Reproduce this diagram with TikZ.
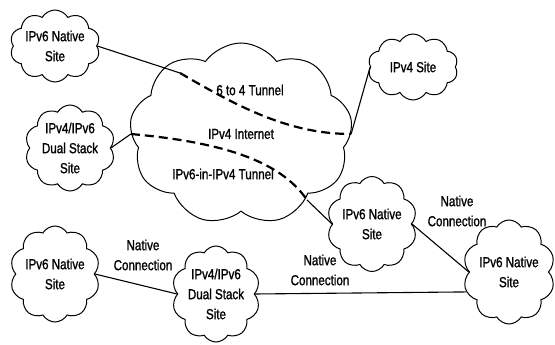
\documentclass[tikz,border=0pt]{standalone}
\usepackage{fontspec}
\setmainfont{Liberation Sans}[FakeStretch=0.8,FakeBold=1.2]
\usetikzlibrary{shapes.symbols}

\begin{document}
\begin{tikzpicture}[x=1pt,y=-1pt,font=\fontsize{14.5}{20}\selectfont,
  site/.style={cloud,draw,cloud puffs=10,cloud puff arc=120,cloud ignores aspect,inner sep=0pt,align=center,line width=1pt},
  lbl/.style={align=center,inner sep=0pt},
  link/.style={line width=1.1pt},
  tunnel/.style={line width=2.2pt,dash pattern=on 9pt off 5pt}]
\useasboundingbox (0,0) rectangle (555,345);
% IPv4 internet in the middle
\node[site,cloud puffs=9,cloud puff arc=110,minimum width=223pt,minimum height=182pt] (inet) at (241,134) {IPv4 Internet};
\node[lbl] (t64) at (250,90) {6 to 4 Tunnel};
\node[lbl] (t46) at (223,174) {IPv6-in-IPv4 Tunnel};
% sites round it
\node[site,minimum width=90pt,minimum height=72pt] (v6tl) at (55,46) {IPv6 Native\\Site};
\node[site,minimum width=90pt,minimum height=86pt] (dsl) at (70,148) {IPv4/IPv6\\Dual Stack\\Site};
\node[site,minimum width=90pt,minimum height=66pt] (v4) at (413,67) {IPv4 Site};
\node[site,minimum width=90pt,minimum height=95pt] (v6mr) at (372,224) {IPv6 Native\\Site};
\node[site,minimum width=92pt,minimum height=104pt] (v6br) at (509,272) {IPv6 Native\\Site};
\node[site,minimum width=90pt,minimum height=96pt] (v6bl) at (55,274) {IPv6 Native\\Site};
\node[site,minimum width=88pt,minimum height=96pt] (dsb) at (216,294) {IPv4/IPv6\\Dual Stack\\Site};
% tunnel ends on the internet cloud
\coordinate (t1in) at (180,73);
\coordinate (t2out) at (307,200);
% 6 to 4 tunnel
\draw[link] (v6tl.east) -- (t1in);
\draw[tunnel] (t1in) .. controls (240,108) and (290,134) .. (inet.east);
\draw[link] (inet.east) -- (v4.west);
% IPv6 in IPv4 tunnel
\draw[link] (dsl.east) -- (inet.west);
\draw[tunnel] (inet.west) .. controls (220,142) and (280,160) .. (t2out);
\draw[link] (t2out) -- (v6mr.west);
% native connections
\draw[link] (v6mr.east) -- (v6br.west);
\draw[link] (v6bl.east) -- (dsb.west);
\draw[link] (dsb.east) -- (v6br.205);
\node[lbl] (nc1) at (143,255) {Native\\Connection};
\node[lbl] (nc2) at (320,270) {Native\\Connection};
\node[lbl] (nc3) at (457,211) {Native\\Connection};
\end{tikzpicture}
\end{document}
